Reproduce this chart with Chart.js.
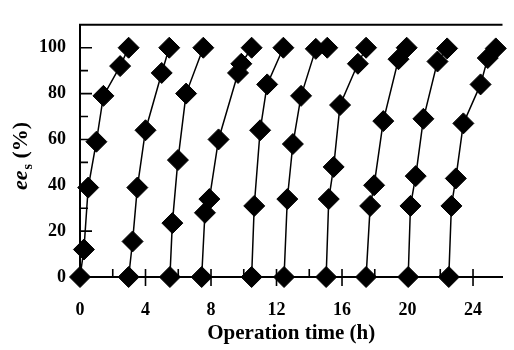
<!DOCTYPE html>
<html>
<head>
<meta charset="utf-8">
<script src="https://cdn.jsdelivr.net/npm/chart.js@4"></script>
<style>
  html, body { margin: 0; padding: 0; background: #fff; }
  #wrap { width: 514px; height: 350px; }
</style>
</head>
<body>
<div id="wrap"><canvas id="chart"></canvas></div>
<script>
// repeated batches: operation time (h) vs ee_s (%)
const run1 = [[0, 0], [0.24, 12], [0.5, 39], [1.0, 59], [1.43, 79], [2.45, 92], [2.97, 100]];
const run2 = [[2.97, 0], [3.21, 15.5], [3.5, 39], [4.0, 64], [4.99, 89], [5.45, 100]];
const run3 = [[5.49, 0], [5.64, 23.5], [5.98, 51], [6.48, 80], [7.53, 100]];
const run4 = [[7.43, 0], [7.63, 28], [7.9, 34], [8.46, 60], [9.65, 89], [9.85, 93], [10.48, 100]];
const run5 = [[10.48, 0], [10.64, 31], [11.0, 64], [11.43, 84], [12.42, 100]];
const run6 = [[12.46, 0], [12.66, 34], [13.0, 58], [13.5, 79], [14.4, 99.5], [15.1, 100]];
const run7 = [[15.03, 0], [15.19, 34], [15.49, 48], [15.88, 75], [16.97, 93], [17.47, 100]];
const run8 = [[17.47, 0], [17.72, 31], [17.96, 40], [18.52, 68], [19.45, 95], [19.95, 100]];
const run9 = [[20.04, 0], [20.18, 31], [20.5, 44], [20.97, 69], [21.83, 94], [22.42, 99.7]];
const run10 = [[22.52, 0], [22.68, 31], [22.95, 43], [23.41, 67], [24.46, 84], [24.9, 95.5], [25.39, 99.7]];

const runs = [run1, run2, run3, run4, run5, run6, run7, run8, run9, run10];
const xTicks = [0, 4, 8, 12, 16, 20, 24];
const xMinor = [2, 6, 10, 14, 18, 22];
const yTicks = [0, 20, 40, 60, 80, 100];
const yMinor = [10, 30, 50, 70, 90];

const serif = "'Liberation Serif', 'DejaVu Serif', serif";

// inward tick marks, top frame line and the ee_s axis title
const decor = {
  id: 'decor',
  afterDraw(chart) {
    const ctx = chart.ctx;
    const a = chart.chartArea;
    const x = chart.scales.x, y = chart.scales.y;
    ctx.save();
    ctx.strokeStyle = '#000';
    ctx.lineWidth = 2;
    ctx.beginPath();
    ctx.moveTo(a.left - 1, a.top);
    ctx.lineTo(a.right, a.top);
    ctx.stroke();

    ctx.lineWidth = 1.6;
    ctx.beginPath();
    yTicks.forEach(function (v) {
      const p = y.getPixelForValue(v);
      ctx.moveTo(a.left, p); ctx.lineTo(a.left + 12, p);
    });
    yMinor.forEach(function (v) {
      const p = y.getPixelForValue(v);
      ctx.moveTo(a.left, p); ctx.lineTo(a.left + 8, p);
    });
    xTicks.forEach(function (v) {
      const p = x.getPixelForValue(v);
      ctx.moveTo(p, a.bottom - 8); ctx.lineTo(p, a.bottom + 9);
    });
    xMinor.forEach(function (v) {
      const p = x.getPixelForValue(v);
      ctx.moveTo(p, a.bottom - 8); ctx.lineTo(p, a.bottom);
    });
    ctx.stroke();

    // y axis title: ee_s (%)
    ctx.translate(27, 190);
    ctx.rotate(-Math.PI / 2);
    ctx.fillStyle = '#000';
    ctx.textBaseline = 'alphabetic';
    ctx.textAlign = 'left';
    ctx.font = 'italic bold 22px ' + serif;
    ctx.fillText('ee', 0, 0);
    let w = ctx.measureText('ee').width;
    ctx.font = 'bold 14px ' + serif;
    ctx.fillText('s', w + 1, 5);
    w += 1 + ctx.measureText('s').width;
    ctx.font = 'bold 22px ' + serif;
    ctx.fillText(' (%)', w, 0);
    ctx.restore();
  }
};

new Chart(document.getElementById('chart'), {
  type: 'scatter',
  data: {
    datasets: runs.map(function (r) {
      return {
        data: r.map(function (p) { return { x: p[0], y: p[1] }; }),
        showLine: true,
        borderColor: '#000',
        borderWidth: 1.5,
        backgroundColor: '#000',
        pointStyle: 'rectRot',
        pointRadius: 10.5,
        pointBorderWidth: 1,
        pointBorderColor: '#000',
        pointBackgroundColor: '#000',
        clip: false
      };
    })
  },
  options: {
    responsive: true,
    maintainAspectRatio: false,
    animation: false,
    layout: { padding: { top: 12, right: 0, left: 0, bottom: 0 } },
    plugins: { legend: { display: false }, tooltip: { enabled: false } },
    scales: {
      x: {
        type: 'linear',
        min: 0,
        max: 25.8,
        afterFit: function (s) { s.height = 73; },
        afterBuildTicks: function (s) { s.ticks = xTicks.map(function (v) { return { value: v }; }); },
        grid: { display: true, drawOnChartArea: false, drawTicks: false },
        border: { display: true, color: '#000', width: 2 },
        ticks: { color: '#000', padding: 23, maxRotation: 0, font: { family: serif, size: 18, weight: 'bold' } },
        title: {
          display: true,
          text: 'Operation time (h)',
          color: '#000',
          padding: { top: 0, bottom: 4 },
          font: { family: serif, size: 21, weight: 'bold' }
        }
      },
      y: {
        min: 0,
        max: 110,
        afterFit: function (s) { s.width = 80; },
        afterBuildTicks: function (s) { s.ticks = yTicks.map(function (v) { return { value: v }; }); },
        grid: { display: true, drawOnChartArea: false, drawTicks: false },
        border: { display: true, color: '#000', width: 2 },
        ticks: { color: '#000', padding: 14, font: { family: serif, size: 18, weight: 'bold' } }
      }
    }
  },
  plugins: [decor]
});
</script>
</body>
</html>
